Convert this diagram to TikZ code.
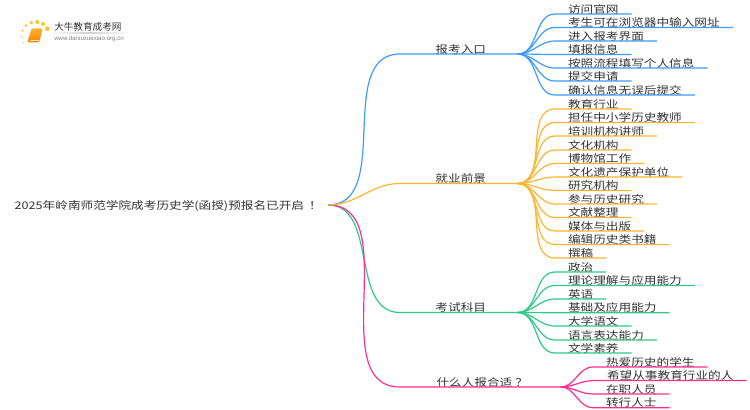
\documentclass[tikz,border=0pt]{standalone}
\usepackage{fontspec}
\newfontfamily\cjk[FakeStretch=1.2]{Noto Sans CJK SC}
\newfontfamily\cjklogo{Noto Sans CJK SC}
\setsansfont{Liberation Sans}
\definecolor{txt}{HTML}{333333}
\definecolor{cblue}{HTML}{3D9BFF}
\definecolor{corange}{HTML}{FDB52F}
\definecolor{cgreen}{HTML}{2FC98A}
\definecolor{cpink}{HTML}{FF2E8E}

\begin{document}
\begin{tikzpicture}[x=.75pt, y=-.75pt,
        root/.style = {inner xsep=4.5pt, inner ysep=0pt, text height=8pt, text depth=2pt, font=\cjk\fontsize{7.9}{9}\selectfont, text=txt},
        branch/.style = {anchor=south west, inner sep=0pt, text height=8.5pt, text depth=.5pt, minimum width=87.75pt, font=\cjk\fontsize{7.9}{9}\selectfont, text=txt},
        leaf/.style = {anchor=south west, inner xsep=9.6pt, inner ysep=0pt, text height=8.5pt, text depth=.5pt, font=\cjk\fontsize{7.9}{9}\selectfont, text=txt},
        wire/.style = {line width=.9pt}]
        \useasboundingbox (0, 0) rectangle (750, 410);

        % logo
        \foreach \px/\py/\pr in {23.7/42.7/.8, 21.7/36.7/1, 22.7/30.7/1.2, 26/25.7/1.5, 31.3/22.7/1.8, 37.3/22/2, 43/24/2, 47.3/28.7/2.3}
            \fill[corange!80!yellow] (\px, \py) circle (\pr);
        \shade[top color=corange, bottom color=orange, rounded corners=1pt] (31.7, 28.3) -- (42.7, 28.3) -- (39.3, 42.3) -- (27.3, 42.3) -- cycle;
        \draw[white!70!corange, line width=.4pt] (29.5, 39.8) -- (39, 39.8);
        \shade[left color=white, right color=white, middle color=gray!35] (45, 33) rectangle (133, 34);
        \node[anchor=west, inner sep=0pt, text=txt, font=\cjklogo\fontsize{7.2}{8}\selectfont] at (54, 27) (logotitle) {大牛教育成考网};
        \node[anchor=west, inner sep=0pt, text=gray, font=\sffamily\fontsize{4.6}{5}\selectfont] at (54, 39) (logourl) {www.daniuxuexiao.org.cn};

        \node[root, anchor=east] at (328, 205) (R) {2025年岭南师范学院成考历史学(函授)预报名已开启\hspace{3.75pt}！};

        \node[branch] at (400, 54) (B1) {\hspace{3pt}报考入口};
        \node[branch] at (400, 183.5) (B2) {\hspace{3pt}就业前景};
        \node[branch] at (400, 312.5) (B3) {\hspace{3pt}考试科目};
        \node[branch, minimum width=120pt] at (400, 387) (B4) {\hspace{3pt}什么人报合适\hspace{2.25pt}？};

        \node[leaf] at (555, 14) (A1) {访问官网};
        \node[leaf] at (555, 27.5) (A2) {考生可在浏览器中输入网址};
        \node[leaf] at (555, 41) (A3) {进入报考界面};
        \node[leaf] at (555, 54.5) (A4) {填报信息};
        \node[leaf] at (555, 68) (A5) {按照流程填写个人信息};
        \node[leaf] at (555, 81) (A6) {提交申请};
        \node[leaf] at (555, 95) (A7) {确认信息无误后提交};

        \node[leaf] at (555, 109) (C1) {教育行业};
        \node[leaf] at (555, 122.5) (C2) {担任中小学历史教师};
        \node[leaf] at (555, 136) (C3) {培训机构讲师};
        \node[leaf] at (555, 150) (C4) {文化机构};
        \node[leaf] at (555, 163.5) (C5) {博物馆工作};
        \node[leaf] at (555, 177) (C6) {文化遗产保护单位};
        \node[leaf] at (555, 190.5) (C7) {研究机构};
        \node[leaf] at (555, 204) (C8) {参与历史研究};
        \node[leaf] at (555, 217.5) (C9) {文献整理};
        \node[leaf] at (555, 231) (C10) {媒体与出版};
        \node[leaf] at (555, 244.5) (C11) {编辑历史类书籍};
        \node[leaf] at (555, 258) (C12) {撰稿};

        \node[leaf] at (555, 272) (D1) {政治};
        \node[leaf] at (555, 285.5) (D2) {理论理解与应用能力};
        \node[leaf] at (555, 299) (D3) {英语};
        \node[leaf] at (555, 312.7) (D4) {基础及应用能力};
        \node[leaf] at (555, 326) (D5) {大学语文};
        \node[leaf] at (555, 340) (D6) {语言表达能力};
        \node[leaf] at (555, 353) (D7) {文学素养};

        \node[leaf] at (593, 367) (E1) {热爱历史的学生};
        \node[leaf] at (594, 380.5) (E2) {希望从事教育行业的人};
        \node[leaf] at (593, 394) (E3) {在职人员};
        \node[leaf] at (593, 407.7) (E4) {转行人士};

        \draw [wire, cgreen] (R.east) to[out=0, in=180] (B3.south west) -- (B3.south east);
        \draw [wire, cpink] (R.east) to[out=0, in=180] (B4.south west) -- (B4.south east);
        \draw [wire, cblue] (R.east) to[out=0, in=180] (B1.south west) -- (B1.south east);
        \draw [wire, corange] (R.east) to[out=0, in=180] (B2.south west) -- (B2.south east);

        \foreach \n in {A1, A2, A3, A4, A5, A6, A7}
            \draw [wire, cblue] (B1.south east) to[out=0, in=180] (\n.south west) -- (\n.south east);
        \foreach \n in {C1, C2, C3, C4, C5, C6, C7, C8, C9, C10, C11, C12}
            \draw [wire, corange] (B2.south east) to[out=0, in=180] (\n.south west) -- (\n.south east);
        \foreach \n in {D1, D2, D3, D4, D5, D6, D7}
            \draw [wire, cgreen] (B3.south east) to[out=0, in=180] (\n.south west) -- (\n.south east);
        \foreach \n in {E1, E2, E3, E4}
            \draw [wire, cpink] (B4.south east) to[out=0, in=180] (\n.south west) -- (\n.south east);
\end{tikzpicture}
\end{document}
